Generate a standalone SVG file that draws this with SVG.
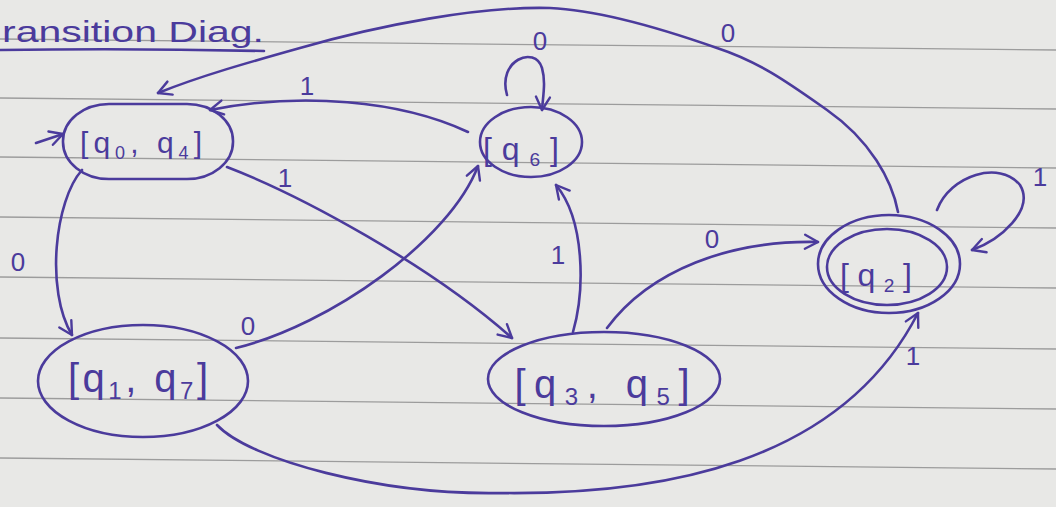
<svg xmlns="http://www.w3.org/2000/svg" width="1056" height="507" viewBox="0 0 1056 507">
<style>
.ink{fill:none;stroke:#4b3b9c;stroke-width:2.6;stroke-linecap:round;stroke-linejoin:round}
.rule{stroke:#9c9c9c;stroke-width:1.3}
.lbl{font-family:"Liberation Sans",Arial,sans-serif;fill:#4b3b9c;text-anchor:middle}
.el{font-size:26px;dominant-baseline:central}
.sub{font-size:0.6em}
</style>
<defs>
<marker id="arr" viewBox="-16 -9 18 18" refX="0" refY="0" markerWidth="18" markerHeight="18" markerUnits="userSpaceOnUse" orient="auto">
<path d="M-13,-7 L0,0 L-13,7" fill="none" stroke="#4b3b9c" stroke-width="2.4" stroke-linecap="round" stroke-linejoin="round"/>
</marker>
</defs>
<rect width="1056" height="507" fill="#e8e8e6"/>
<g id="paper-lines">
<line class="rule" x1="0" y1="39" x2="1056" y2="50"/>
<line class="rule" x1="0" y1="98" x2="1056" y2="109"/>
<line class="rule" x1="0" y1="157" x2="1056" y2="168"/>
<line class="rule" x1="0" y1="217" x2="1056" y2="228"/>
<line class="rule" x1="0" y1="277" x2="1056" y2="288"/>
<line class="rule" x1="0" y1="338" x2="1056" y2="349"/>
<line class="rule" x1="0" y1="398" x2="1056" y2="409"/>
<line class="rule" x1="0" y1="458" x2="1056" y2="469"/>
</g>
<g id="title">
<text class="lbl" x="2" y="42" font-size="30" text-anchor="start" style="text-anchor:start" textLength="262" lengthAdjust="spacingAndGlyphs">ransition Diag.</text>
<path class="ink" d="M0,50 Q130,48 264,51" stroke-width="2"/>
</g>
<g id="connectors">
<path class="ink" d="M36,143 L63,134" marker-end="url(#arr)"/>
<path class="ink" d="M82,170 C55,200 45,290 72,335" marker-end="url(#arr)"/>
<path class="ink" d="M236,348 C330,325 450,240 478,166" marker-end="url(#arr)"/>
<path class="ink" d="M227,167 C300,195 430,265 512,338" marker-end="url(#arr)"/>
<path class="ink" d="M468,132 C400,100 300,92 210,110" marker-end="url(#arr)"/>
<path class="ink" d="M507,95 C497,60 535,45 542,68 C546,82 543,96 542,110" marker-end="url(#arr)"/>
<path class="ink" d="M573,332 C585,290 585,220 556,185" marker-end="url(#arr)"/>
<path class="ink" d="M607,328 C650,270 730,240 818,242" marker-end="url(#arr)"/>
<path class="ink" d="M898,212 C892,180 870,140 827,110 C790,84 760,62 717,48 C660,28 600,10 550,8 C480,6 380,25 300,48 C250,62 200,76 158,93" marker-end="url(#arr)"/>
<path class="ink" d="M937,210 C950,175 1000,160 1020,185 C1035,210 1000,240 972,250" marker-end="url(#arr)"/>
<path class="ink" d="M217,425 C250,460 380,495 500,493 C660,495 840,465 918,313" marker-end="url(#arr)"/>
<text class="lbl el" x="18" y="262">0</text>
<text class="lbl el" x="248" y="326">0</text>
<text class="lbl el" x="285" y="178">1</text>
<text class="lbl el" x="307" y="86">1</text>
<text class="lbl el" x="540" y="41">0</text>
<text class="lbl el" x="558" y="255">1</text>
<text class="lbl el" x="712" y="239">0</text>
<text class="lbl el" x="728" y="33">0</text>
<text class="lbl el" x="1040" y="177">1</text>
<text class="lbl el" x="913" y="356">1</text>
</g>
<g id="q0q4">
<rect class="ink" x="63" y="104" width="170" height="75" rx="46" ry="37"/>
<text class="lbl" x="141" y="153" font-size="30" textLength="122" lengthAdjust="spacing">[q<tspan class="sub" dy="6">0</tspan><tspan dy="-6">, q</tspan><tspan class="sub" dy="6">4</tspan><tspan dy="-6">]</tspan></text>
</g>
<g id="q6">
<ellipse class="ink" cx="531" cy="142" rx="51" ry="35"/>
<text class="lbl" x="521" y="160" font-size="32" textLength="76" lengthAdjust="spacing">[q<tspan class="sub" dy="6">6</tspan><tspan dy="-6">]</tspan></text>
</g>
<g id="q1q7">
<ellipse class="ink" cx="143" cy="381" rx="105" ry="56"/>
<text class="lbl" x="138" y="392" font-size="40" textLength="140" lengthAdjust="spacing">[q<tspan class="sub" dy="7">1</tspan><tspan dy="-7">, q</tspan><tspan class="sub" dy="7">7</tspan><tspan dy="-7">]</tspan></text>
</g>
<g id="q3q5">
<ellipse class="ink" cx="604" cy="379" rx="116" ry="47"/>
<text class="lbl" x="602" y="398" font-size="40" textLength="175" lengthAdjust="spacing">[q<tspan class="sub" dy="7">3</tspan><tspan dy="-7">, q</tspan><tspan class="sub" dy="7">5</tspan><tspan dy="-7">]</tspan></text>
</g>
<g id="q2">
<ellipse class="ink" cx="889" cy="264" rx="71" ry="49"/>
<ellipse class="ink" cx="887" cy="267" rx="60" ry="38"/>
<text class="lbl" x="876" y="286" font-size="32" textLength="72" lengthAdjust="spacing">[q<tspan class="sub" dy="6">2</tspan><tspan dy="-6">]</tspan></text>
</g>
</svg>
